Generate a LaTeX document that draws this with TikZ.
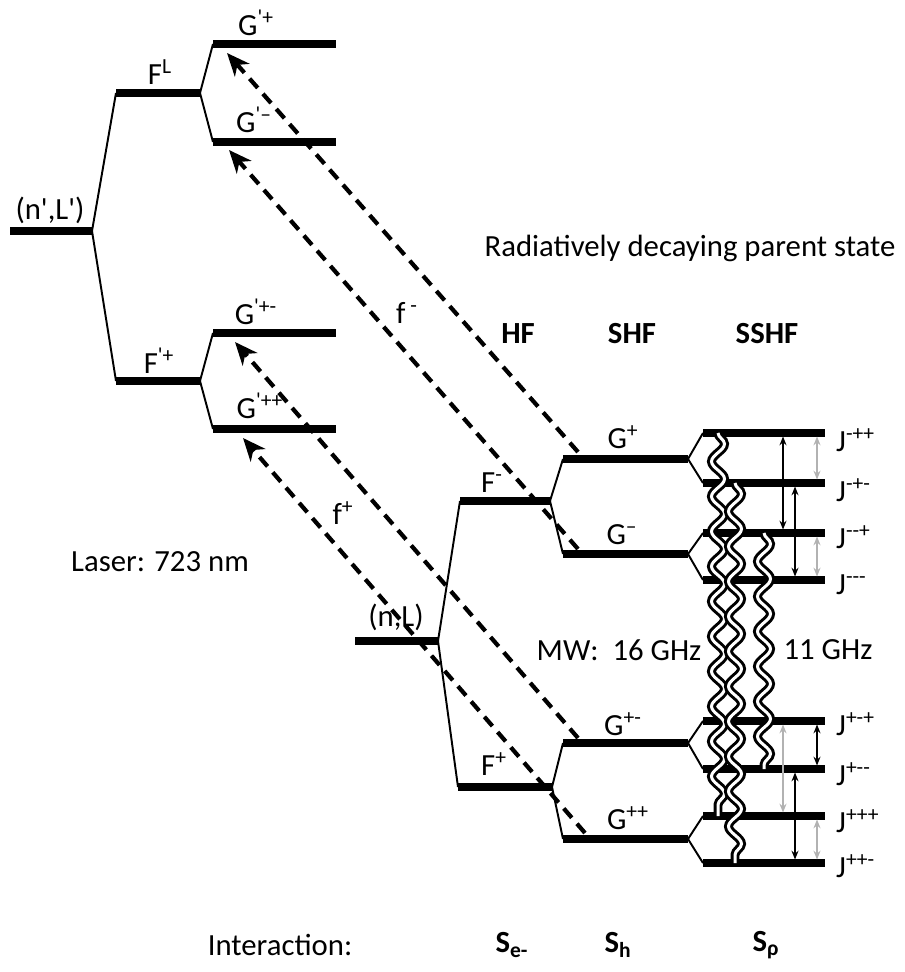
\documentclass[tikz,border=0pt]{standalone}
\usepackage{fontspec}
\setmainfont{Carlito}
\usetikzlibrary{arrows.meta,decorations.pathmorphing}

\begin{document}
\begin{tikzpicture}[x=0.02cm, y=-0.02cm, font=\fontsize{17.5}{20}\selectfont,
  lvl/.style={line width=5pt},
  jlvl/.style={line width=4pt},
  split/.style={line width=1.1pt},
  laser/.style={line width=2.4pt, dash pattern=on 7pt off 4.5pt, -{Stealth[length=13pt,width=11pt,inset=4pt]}},
  mw/.style={line width=1.7pt, double=white, double distance=1.7pt, decorate,
    decoration={snake, amplitude=0.13cm, segment length=0.7cm}},
  tr/.style={line width=0.7pt, {Stealth[length=5pt,width=4pt]}-{Stealth[length=5pt,width=4pt]}, shorten <=2pt, shorten >=2pt},
  hd/.style={font=\fontsize{17.5}{20}\selectfont\bfseries}]
\useasboundingbox (0,0) rectangle (904,972);
% excited manifold (n',L') left
\coordinate (NLp-l) at (10,231);  \coordinate (NLp-r) at (92,231);
\coordinate (FLp-l) at (116,93);  \coordinate (FLp-r) at (200,93);
\coordinate (FPp-l) at (116,381); \coordinate (FPp-r) at (200,381);
\coordinate (Gpa-l) at (213,44);  \coordinate (Gpa-r) at (336,44);
\coordinate (Gpb-l) at (213,142); \coordinate (Gpb-r) at (336,142);
\coordinate (Gpc-l) at (213,333); \coordinate (Gpc-r) at (336,333);
\coordinate (Gpd-l) at (213,429); \coordinate (Gpd-r) at (336,429);
\foreach \l in {NLp,FLp,FPp,Gpa,Gpb,Gpc,Gpd} \draw[lvl] (\l-l) -- (\l-r);
\draw[split] (FLp-l) -- (NLp-r) -- (FPp-l);
\draw[split] (Gpa-l) -- (FLp-r) -- (Gpb-l);
\draw[split] (Gpc-l) -- (FPp-r) -- (Gpd-l);
\node (nlp) at (50,210) {(n\textquotesingle,L\textquotesingle)};
\node (flp) at (160,72) {F\textsuperscript{L}};
\node (fpp) at (159,361) {F\textsuperscript{\textquotesingle+}};
\node (gpa) at (256,23) {G\textsuperscript{\textquotesingle+}};
\node (gpb) at (254,120) {G\textsuperscript{\textquotesingle–}};
\node (gpc) at (256,312) {G\textsuperscript{\textquotesingle+-}};
\node (gpd) at (260,406) {G\textsuperscript{\textquotesingle++}};
% parent state (n,L) right
\coordinate (NL-l) at (355,641);  \coordinate (NL-r) at (438,641);
\coordinate (FL-l) at (460,501);  \coordinate (FL-r) at (550,501);
\coordinate (FP-l) at (458,787);  \coordinate (FP-r) at (552,787);
\coordinate (Ga-l) at (563,459);  \coordinate (Ga-r) at (688,459);
\coordinate (Gb-l) at (563,554);  \coordinate (Gb-r) at (688,554);
\coordinate (Gc-l) at (563,743);  \coordinate (Gc-r) at (688,743);
\coordinate (Gd-l) at (563,839);  \coordinate (Gd-r) at (688,839);
\foreach \l in {NL,FL,FP,Ga,Gb,Gc,Gd} \draw[lvl] (\l-l) -- (\l-r);
\draw[split] (FL-l) -- (NL-r) -- (FP-l);
\draw[split] (Ga-l) -- (FL-r) -- (Gb-l);
\draw[split] (Gc-l) -- (FP-r) -- (Gd-l);
\node (nl) at (396,617) {(n,L)};
\node (fl) at (492,483) {F\textsuperscript{-}};
\node (fp) at (494,764) {F\textsuperscript{+}};
\node (ga) at (623,437) {G\textsuperscript{+}};
\node (gb) at (622,535) {G\textsuperscript{–}};
\node (gc) at (623,724) {G\textsuperscript{+-}};
\node (gd) at (628,818) {G\textsuperscript{++}};
% SSHF levels
\foreach \j/\y in {1/433,2/483,3/533,4/580,5/721,6/769,7/816,8/863}{
  \coordinate (J\j-l) at (703,\y); \coordinate (J\j-r) at (825,\y);
  \draw[jlvl] (J\j-l) -- (J\j-r);}
\draw[split] (J1-l) -- (Ga-r) -- (J2-l);
\draw[split] (J3-l) -- (Gb-r) -- (J4-l);
\draw[split] (J5-l) -- (Gc-r) -- (J6-l);
\draw[split] (J7-l) -- (Gd-r) -- (J8-l);
\node[anchor=west] (j1) at (830,440) {J\textsuperscript{-++}};
\node[anchor=west] (j2) at (830,490) {J\textsuperscript{-+-}};
\node[anchor=west] (j3) at (830,537) {J\textsuperscript{-{}-+}};
\node[anchor=west] (j4) at (830,585) {J\textsuperscript{-{}-{}-}};
\node[anchor=west] (j5) at (830,724) {J\textsuperscript{+-+}};
\node[anchor=west] (j6) at (830,774) {J\textsuperscript{+-{}-}};
\node[anchor=west] (j7) at (830,821) {J\textsuperscript{+++}};
\node[anchor=west] (j8) at (830,866) {J\textsuperscript{++-}};
% microwave transitions
\coordinate (wa) at (718,0); \coordinate (wb) at (735,0); \coordinate (wc) at (764,0);
\draw[mw] (J1-l -| wa) -- (J7-l -| wa);
\draw[mw] (J2-l -| wb) -- (J8-l -| wb);
\draw[mw] (J3-l -| wc) -- (J6-l -| wc);
\coordinate (ca) at (783,0); \coordinate (cb) at (795,0); \coordinate (cc) at (817,0);
\draw[tr] (J1-l -| ca) -- (J3-l -| ca);
\draw[tr] (J2-l -| cb) -- (J4-l -| cb);
\draw[tr,gray!60] (J1-l -| cc) -- (J2-l -| cc);
\draw[tr,gray!60] (J3-l -| cc) -- (J4-l -| cc);
\draw[tr,gray!60] (J5-l -| ca) -- (J7-l -| ca);
\draw[tr] (J6-l -| cb) -- (J8-l -| cb);
\draw[tr] (J5-l -| cc) -- (J6-l -| cc);
\draw[tr,gray!60] (J7-l -| cc) -- (J8-l -| cc);
% laser transitions
\coordinate (sa) at (578,452); \coordinate (ta) at (227,53);
\coordinate (sb) at (578,549); \coordinate (tb) at (229,150);
\coordinate (sc) at (578,738); \coordinate (tc) at (235,342);
\coordinate (sd) at (585,833); \coordinate (td) at (243,438);
\draw[laser] (sa) -- (ta);
\draw[laser] (sb) -- (tb);
\draw[laser] (sc) -- (tc);
\draw[laser] (sd) -- (td);
\node (fm) at (407,313) {f\textsuperscript{ -}};
\node (fpl) at (343,513) {f\textsuperscript{+}};
% texts
\node (parent) at (690,248) {Radiatively decaying parent state};
\node[hd] (hf) at (518,334) {HF};
\node[hd] (shf) at (632,334) {SHF};
\node[hd] (sshf) at (767,334) {SSHF};
\node (laserl) at (160,562) {Laser: 723 nm};
\node (mwa) at (619,650) {MW:\ \ 16 GHz};
\node (mwb) at (828,650) {11 GHz};
\node (inter) at (280,945) {Interaction:};
\node[hd] (se) at (512,945) {S\textsubscript{e-}};
\node[hd] (sh) at (618,945) {S\textsubscript{h}};
\node[hd] (sp) at (766,945) {S\textsubscript{ρ}};
\end{tikzpicture}
\end{document}
